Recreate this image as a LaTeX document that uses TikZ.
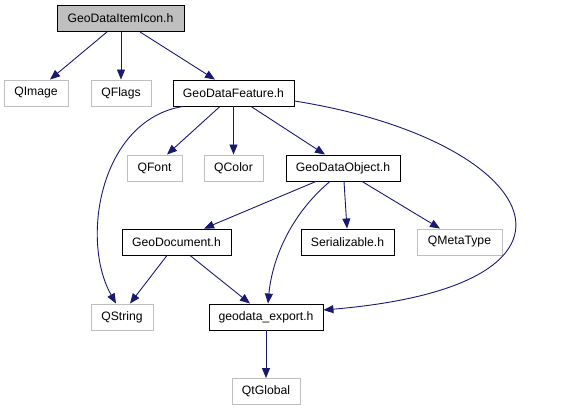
\documentclass[tikz,border=0pt]{standalone}
\usepackage{fontspec}
\setmainfont{Liberation Sans}
\usetikzlibrary{arrows.meta}
\definecolor{EdgeBlue}{HTML}{191970}
\definecolor{ExtGray}{HTML}{BFBFBF}

\begin{document}
\begin{tikzpicture}[x=1pt, y=-1pt,
    box/.style={draw=black, line width=0.9pt, minimum height=26pt, inner sep=0pt, font=\fontsize{12.2}{14}\selectfont},
    extbox/.style={box, draw=ExtGray},
    rootbox/.style={box, fill=ExtGray},
    arrow/.style={-{Triangle[length=10pt,width=8pt]}, line width=0.9pt, EdgeBlue}
  ]
    \useasboundingbox (0,0) rectangle (562,411);

    \node[rootbox, minimum width=127pt] (icon) at (120.5,18.5) {GeoDataItemIcon.h};
    \node[extbox, minimum width=64pt] (qimage) at (36,93) {QImage};
    \node[extbox, minimum width=60pt] (qflags) at (121,93) {QFlags};
    \node[box, minimum width=121pt] (feature) at (233.5,93) {GeoDataFeature.h};
    \node[extbox, minimum width=55pt] (qfont) at (154.5,168) {QFont};
    \node[extbox, minimum width=59pt] (qcolor) at (233.5,168) {QColor};
    \node[box, minimum width=114pt] (object) at (343,168) {GeoDataObject.h};
    \node[box, minimum width=109pt] (document) at (176.5,242) {GeoDocument.h};
    \node[box, minimum width=93pt] (serial) at (347.5,242) {Serializable.h};
    \node[extbox, minimum width=85pt] (qmeta) at (459.5,242) {QMetaType};
    \node[extbox, minimum width=62pt] (qstring) at (122,317) {QString};
    \node[box, minimum width=114pt] (export) at (266,317) {geodata\_export.h};
    \node[extbox, minimum width=68pt] (qtglobal) at (266,391.5) {QtGlobal};

    \draw[arrow] (icon.south -| 107,0) -- (qimage.north -| 50,0);
    \draw[arrow] (icon.south -| qflags) -- (qflags);
    \draw[arrow] (icon.south -| 140,0) -- (feature.north -| 215,0);
    \draw[arrow] (feature.south -| 183,0) .. controls (100,120) and (80,240) .. (qstring.north -| 116,0);
    \draw[arrow] (feature.south -| 220,0) -- (qfont.north -| 167,0);
    \draw[arrow] (feature.south -| qcolor) -- (qcolor);
    \draw[arrow] (feature.south -| 251,0) -- (object.north -| 325,0);
    \draw[arrow] (feature.east |- 0,101) .. controls (540,140) and (620,285) .. (export.east |- 0,310);
    \draw[arrow] (object.south -| 316,0) -- (document.north -| 204,0);
    \draw[arrow] (object.south -| 330,0) .. controls (290,215) and (272,260) .. (export.north -| 268,0);
    \draw[arrow] (object.south -| 344,0) -- (serial.north -| 347,0);
    \draw[arrow] (object.south -| 362,0) -- (qmeta.north -| 440,0);
    \draw[arrow] (document.south -| 167,0) -- (qstring.north -| 130,0);
    \draw[arrow] (document.south -| 190,0) -- (export.north -| 250,0);
    \draw[arrow] (export) -- (qtglobal);
  \end{tikzpicture}
\end{document}
